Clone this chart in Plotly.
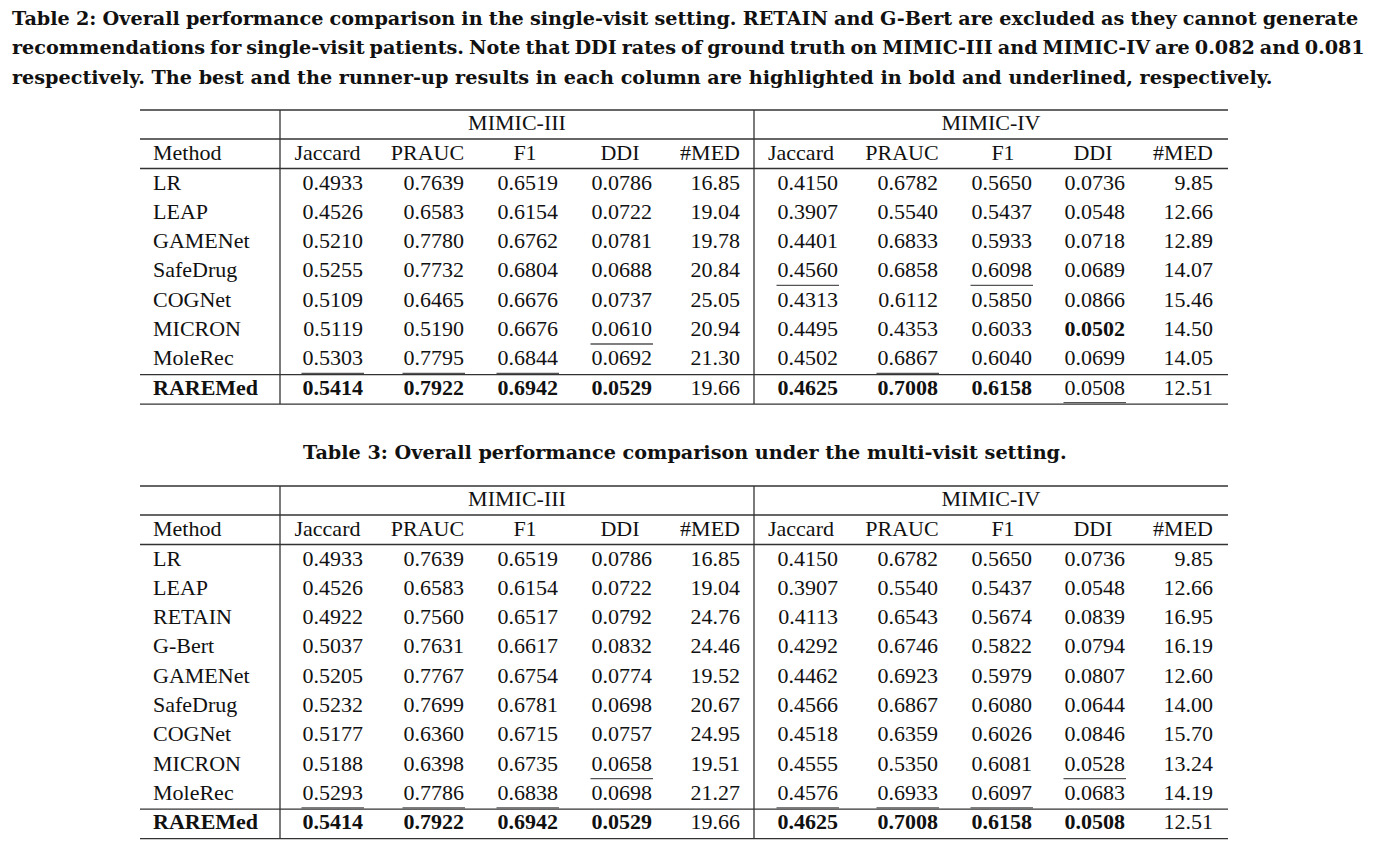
import plotly.graph_objects as go

# ---------------- data ----------------
DATASETS = ["MIMIC-III", "MIMIC-IV"]
METRICS = ["Jaccard", "PRAUC", "F1", "DDI", "#MED"]

T2_METHODS = ["LR", "LEAP", "GAMENet", "SafeDrug", "COGNet", "MICRON", "MoleRec", "RAREMed"]
T2_M3_JACCARD = [0.4933, 0.4526, 0.5210, 0.5255, 0.5109, 0.5119, 0.5303, 0.5414]
T2_M3_PRAUC = [0.7639, 0.6583, 0.7780, 0.7732, 0.6465, 0.5190, 0.7795, 0.7922]
T2_M3_F1 = [0.6519, 0.6154, 0.6762, 0.6804, 0.6676, 0.6676, 0.6844, 0.6942]
T2_M3_DDI = [0.0786, 0.0722, 0.0781, 0.0688, 0.0737, 0.0610, 0.0692, 0.0529]
T2_M3_MED = [16.85, 19.04, 19.78, 20.84, 25.05, 20.94, 21.30, 19.66]
T2_M4_JACCARD = [0.4150, 0.3907, 0.4401, 0.4560, 0.4313, 0.4495, 0.4502, 0.4625]
T2_M4_PRAUC = [0.6782, 0.5540, 0.6833, 0.6858, 0.6112, 0.4353, 0.6867, 0.7008]
T2_M4_F1 = [0.5650, 0.5437, 0.5933, 0.6098, 0.5850, 0.6033, 0.6040, 0.6158]
T2_M4_DDI = [0.0736, 0.0548, 0.0718, 0.0689, 0.0866, 0.0502, 0.0699, 0.0508]
T2_M4_MED = [9.85, 12.66, 12.89, 14.07, 15.46, 14.50, 14.05, 12.51]

T3_METHODS = ["LR", "LEAP", "RETAIN", "G-Bert", "GAMENet", "SafeDrug", "COGNet", "MICRON", "MoleRec", "RAREMed"]
T3_M3_JACCARD = [0.4933, 0.4526, 0.4922, 0.5037, 0.5205, 0.5232, 0.5177, 0.5188, 0.5293, 0.5414]
T3_M3_PRAUC = [0.7639, 0.6583, 0.7560, 0.7631, 0.7767, 0.7699, 0.6360, 0.6398, 0.7786, 0.7922]
T3_M3_F1 = [0.6519, 0.6154, 0.6517, 0.6617, 0.6754, 0.6781, 0.6715, 0.6735, 0.6838, 0.6942]
T3_M3_DDI = [0.0786, 0.0722, 0.0792, 0.0832, 0.0774, 0.0698, 0.0757, 0.0658, 0.0698, 0.0529]
T3_M3_MED = [16.85, 19.04, 24.76, 24.46, 19.52, 20.67, 24.95, 19.51, 21.27, 19.66]
T3_M4_JACCARD = [0.4150, 0.3907, 0.4113, 0.4292, 0.4462, 0.4566, 0.4518, 0.4555, 0.4576, 0.4625]
T3_M4_PRAUC = [0.6782, 0.5540, 0.6543, 0.6746, 0.6923, 0.6867, 0.6359, 0.5350, 0.6933, 0.7008]
T3_M4_F1 = [0.5650, 0.5437, 0.5674, 0.5822, 0.5979, 0.6080, 0.6026, 0.6081, 0.6097, 0.6158]
T3_M4_DDI = [0.0736, 0.0548, 0.0839, 0.0794, 0.0807, 0.0644, 0.0846, 0.0528, 0.0683, 0.0508]
T3_M4_MED = [9.85, 12.66, 16.95, 16.19, 12.60, 14.00, 15.70, 13.24, 14.19, 12.51]

TITLE_T2 = [
    "Table 2: Overall performance comparison in the single-visit setting. RETAIN and G-Bert are excluded as they cannot generate",
    "recommendations for single-visit patients. Note that DDI rates of ground truth on MIMIC-III and MIMIC-IV are 0.082 and 0.081",
    "respectively. The best and the runner-up results in each column are highlighted in bold and underlined, respectively.",
]
TITLE_T3 = "Table 3: Overall performance comparison under the multi-visit setting."

# direction of "better" per metric (None = not ranked)
BETTER = {"Jaccard": "max", "PRAUC": "max", "F1": "max", "DDI": "min", "#MED": None}

TABLES = [
    (T2_METHODS, {
        "MIMIC-III": [T2_M3_JACCARD, T2_M3_PRAUC, T2_M3_F1, T2_M3_DDI, T2_M3_MED],
        "MIMIC-IV": [T2_M4_JACCARD, T2_M4_PRAUC, T2_M4_F1, T2_M4_DDI, T2_M4_MED],
    }),
    (T3_METHODS, {
        "MIMIC-III": [T3_M3_JACCARD, T3_M3_PRAUC, T3_M3_F1, T3_M3_DDI, T3_M3_MED],
        "MIMIC-IV": [T3_M4_JACCARD, T3_M4_PRAUC, T3_M4_F1, T3_M4_DDI, T3_M4_MED],
    }),
]

# ---------------- layout (pixel geometry) ----------------
W, H = 1373, 849
OFF = 8  # default body margin of the html page
FONT = "Liberation Serif"
TITLE_FONT = "DejaVu Serif"
FS = 22
TITLE_FS = 19.2
TITLE_WORD_SPACING = [-0.5, -1.7, 0.0]  # justification of the caption lines
TXT = "#111111"
RULE = "#333333"

TABLE_TOPS = [110, 486]
TBL_X0, TBL_X1 = 140, 1228
VLINES = [280, 754]
METHOD_X = 153
GROUP_CENTER = {"MIMIC-III": 517, "MIMIC-IV": 991}
HEAD_CENTER = {
    "MIMIC-III": [327.5, 427.5, 525, 620, None],
    "MIMIC-IV": [801, 902, 1003, 1093, None],
}
VAL_RIGHT = {
    "MIMIC-III": [363, 464, 558, 652, 740],
    "MIMIC-IV": [838, 938, 1032, 1125, 1213],
}
PITCH = 29.3

fig = go.Figure()
shapes = []


def hline(y, x0=TBL_X0, x1=TBL_X1, color=RULE, width=1.3):
    shapes.append(dict(type="line", xref="x", yref="y", x0=x0, x1=x1, y0=y, y1=y,
                       line=dict(color=color, width=width)))


def vline(x, y0, y1):
    shapes.append(dict(type="line", xref="x", yref="y", x0=x, x1=x, y0=y0, y1=y1,
                       line=dict(color=RULE, width=1.3)))


def text_trace(xs, ys, texts, pos):
    fig.add_trace(go.Scatter(
        x=xs, y=ys, text=texts, mode="text", textposition=pos,
        textfont=dict(family=FONT, size=FS, color=TXT),
        hoverinfo="skip", showlegend=False, cliponaxis=False))


def rank_ids(vals, mode):
    order = sorted(range(len(vals)), key=lambda i: vals[i], reverse=(mode == "max"))
    return order[0], order[1]


for top, (methods, data) in zip(TABLE_TOPS, TABLES):
    n = len(methods)
    y_group = top + 14.5
    y_mid = top + 29
    y_head = top + 44
    y_rule = top + 58.5
    rows = [top + 74 + i * PITCH for i in range(n)]
    y_last_rule = rows[-1] - 14.5
    y_bottom = rows[-1] + 15

    for y in (top, y_mid, y_rule, y_last_rule, y_bottom):
        hline(y)
    for x in VLINES:
        vline(x, top, y_bottom)

    # method column
    text_trace([METHOD_X], [y_head], ["Method"], "middle right")
    labels = [("<b>%s</b>" % m) if i == n - 1 else m for i, m in enumerate(methods)]
    text_trace([METHOD_X] * n, rows, labels, "middle right")

    for ds in DATASETS:
        text_trace([GROUP_CENTER[ds]], [y_group], [ds], "middle center")
        for j, met in enumerate(METRICS):
            vals = data[ds][j]
            hc = HEAD_CENTER[ds][j]
            xr = VAL_RIGHT[ds][j]
            if hc is None:
                text_trace([xr], [y_head], [met], "middle left")
            else:
                text_trace([hc], [y_head], [met], "middle center")
            fmt = "%.2f" if met == "#MED" else "%.4f"
            strs = [fmt % v for v in vals]
            best = second = None
            if BETTER[met]:
                best, second = rank_ids(vals, BETTER[met])
            texts = [("<b>%s</b>" % s) if i == best else s for i, s in enumerate(strs)]
            text_trace([xr] * n, rows, texts, "middle left")
            if second is not None:
                s = strs[second]
                wpx = (sum(c.isdigit() for c in s) * 0.5 + 0.25) * FS
                hline(rows[second] + 13.5, xr - wpx - 1, xr + 1, color="#555555", width=1.3)

annotations = []
for k, line in enumerate(TITLE_T2):
    annotations.append(dict(
        x=10, y=18 + k * 29.5, xref="x", yref="y", xanchor="left", yanchor="middle",
        text='<b><span style="word-spacing:%.1fpx">%s</span></b>' % (TITLE_WORD_SPACING[k], line),
        showarrow=False,
        font=dict(family=TITLE_FONT, size=TITLE_FS, color=TXT)))
annotations.append(dict(
    x=685, y=452, xref="x", yref="y", xanchor="center", yanchor="middle",
    text="<b>%s</b>" % TITLE_T3, showarrow=False,
    font=dict(family=TITLE_FONT, size=TITLE_FS, color=TXT)))

fig.update_layout(
    width=W - 2 * OFF, height=H - 2 * OFF,
    margin=dict(l=0, r=0, t=0, b=0),
    paper_bgcolor="white", plot_bgcolor="white",
    xaxis=dict(range=[OFF, W - OFF], visible=False, fixedrange=True),
    yaxis=dict(range=[H - OFF, OFF], visible=False, fixedrange=True),
    shapes=shapes, annotations=annotations,
    showlegend=False,
)

fig.write_html("out.html", config={"displayModeBar": False})
